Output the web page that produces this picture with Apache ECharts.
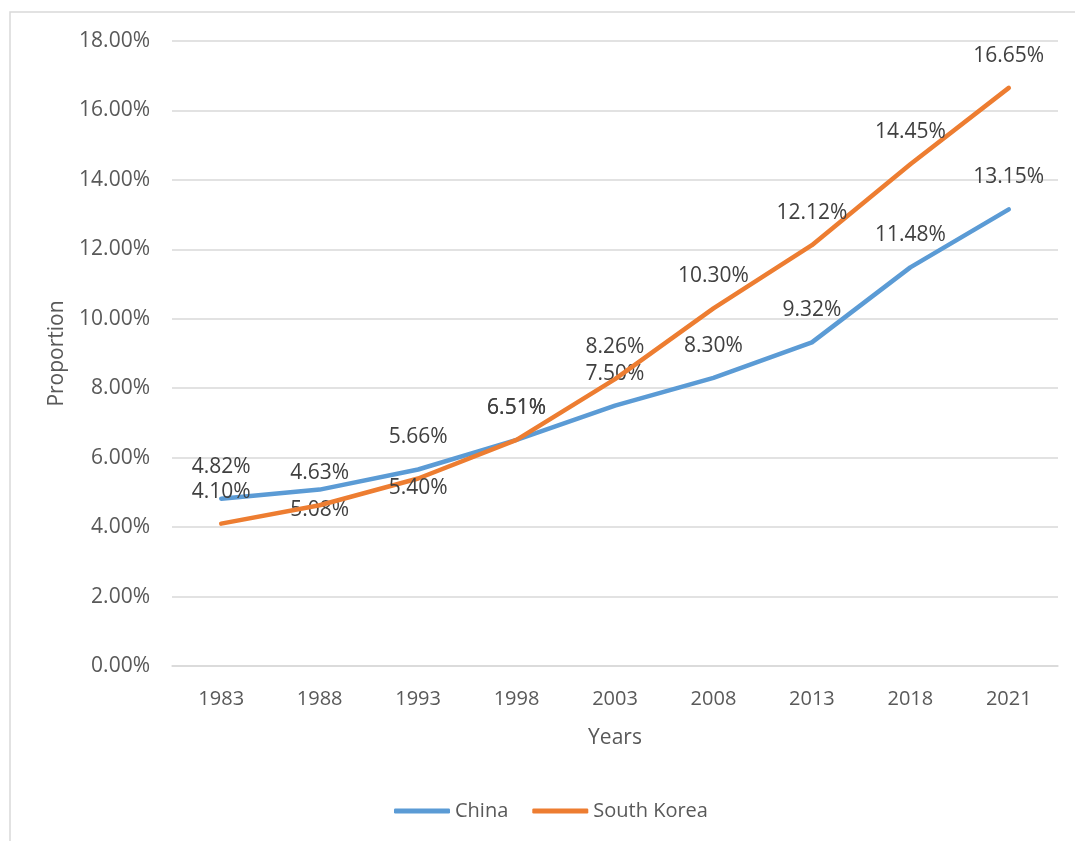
<!DOCTYPE html>
<html>
<head>
<meta charset="utf-8">
<title>China vs South Korea</title>
<style>
  html, body { margin: 0; padding: 0; background: #fff; }
  #main { width: 1075px; height: 841px; }
</style>
</head>
<body>
<div id="main"></div>
<script src="https://cdn.jsdelivr.net/npm/echarts@6/dist/echarts.min.js"></script>
<script>
// data (percent)
var years = ['1983', '1988', '1993', '1998', '2003', '2008', '2013', '2018', '2021'];
var china = [4.82, 5.08, 5.66, 6.51, 7.50, 8.30, 9.32, 11.48, 13.15];
var korea = [4.10, 4.63, 5.40, 6.51, 8.26, 10.30, 12.12, 14.45, 16.65];

var FONT = '"Open Sans", "Noto Sans", sans-serif';

// a couple of labels sit under their point in the original
function withLabels(arr, below) {
  return arr.map(function (v, i) {
    if (below[i] != null) {
      return { value: v, label: { offset: [0, below[i]] } };
    }
    return v;
  });
}

var myChart = echarts.init(document.getElementById('main'));

var option = {
  backgroundColor: '#fff',
  animation: false,
  graphic: [{
    type: 'rect',
    shape: { x: 10, y: 12, width: 1200, height: 1000 },
    style: { fill: 'none', stroke: '#d9d9d9', lineWidth: 1.5 },
    silent: true
  }],
  grid: { left: 172, right: 17, top: 41, bottom: 175, containLabel: false },
  legend: {
    bottom: 15,
    left: 389,
    icon: 'roundRect',
    itemWidth: 56,
    itemHeight: 5,
    itemGap: 24,
    textStyle: { fontFamily: FONT, fontSize: 20, color: '#595959' },
    data: ['China', 'South Korea']
  },
  xAxis: {
    type: 'category',
    data: years,
    boundaryGap: true,
    name: 'Years',
    nameLocation: 'middle',
    nameGap: 62,
    nameTextStyle: { fontFamily: FONT, fontSize: 21, color: '#595959' },
    axisLine: { lineStyle: { color: '#d9d9d9', width: 1.5 } },
    axisTick: { show: false },
    axisLabel: { fontFamily: FONT, fontSize: 20, color: '#595959', margin: 23 }
  },
  yAxis: {
    type: 'value',
    min: 0,
    max: 18,
    interval: 2,
    name: 'Proportion',
    nameLocation: 'middle',
    nameGap: 104,
    nameRotate: 90,
    nameTextStyle: { fontFamily: FONT, fontSize: 21, color: '#595959' },
    axisLine: { show: false },
    axisTick: { show: false },
    splitLine: { lineStyle: { color: '#d9d9d9', width: 1.5 } },
    axisLabel: {
      fontFamily: FONT, fontSize: 21, color: '#595959', margin: 22,
      formatter: function (v) { return v.toFixed(2) + '%'; }
    }
  },
  series: [
    {
      name: 'China',
      type: 'line',
      data: withLabels(china, [null, 20]),
      color: '#5b9bd5',
      symbol: 'circle',
      symbolSize: 1,
      showSymbol: true,
      lineStyle: { width: 4.5, color: '#5b9bd5', cap: 'round', join: 'round' },
      label: {
        show: true,
        position: 'inside',
        offset: [0, -32],
        fontFamily: FONT, fontSize: 21, color: '#404040',
        formatter: function (p) { return p.value.toFixed(2) + '%'; }
      },
      z: 2
    },
    {
      name: 'South Korea',
      type: 'line',
      data: withLabels(korea, [null, null, 10]),
      color: '#ed7d31',
      symbol: 'circle',
      symbolSize: 1,
      showSymbol: true,
      lineStyle: { width: 4.5, color: '#ed7d31', cap: 'round', join: 'round' },
      label: {
        show: true,
        position: 'inside',
        offset: [0, -32],
        fontFamily: FONT, fontSize: 21, color: '#404040',
        formatter: function (p) { return p.value.toFixed(2) + '%'; }
      },
      z: 3
    }
  ]
};

myChart.setOption(option);
</script>
</body>
</html>
